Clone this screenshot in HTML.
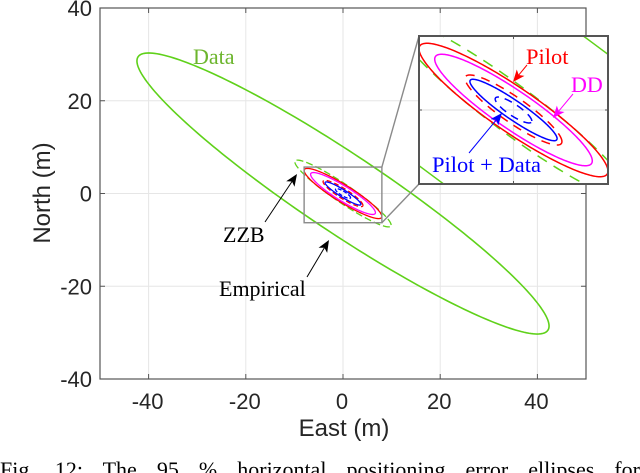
<!DOCTYPE html>
<html>
<head>
<meta charset="utf-8">
<style>
html,body{margin:0;padding:0;background:#fff;width:640px;height:473px;overflow:hidden}
svg{display:block}
.sans{font-family:"Liberation Sans",sans-serif}
.serif{font-family:"Liberation Serif",serif}
</style>
</head>
<body>
<svg id="chart" width="640" height="473" viewBox="0 0 640 473" xmlns="http://www.w3.org/2000/svg">
  <defs>
    <clipPath id="main-clip"><rect x="100" y="8" width="486" height="371"/></clipPath>
    <clipPath id="inset-clip"><rect x="419" y="36" width="189" height="148"/></clipPath>
  </defs>
  <g id="main-grid"></g>
  <g id="main-series" clip-path="url(#main-clip)"></g>
  <g id="main-frame"></g>
  <g id="zoom-box"></g>
  <g id="inset"></g>

  <text class="sans" x="344" y="436" font-size="24" fill="#262626" text-anchor="middle">East (m)</text>
  <text class="sans" transform="translate(50,193) rotate(-90)" font-size="24" fill="#262626" text-anchor="middle">North (m)</text>

  <text class="serif" x="193" y="64" font-size="22" fill="#6cb52d">Data</text>
  <text class="serif" x="223" y="242" font-size="22" fill="#000">ZZB</text>
  <text class="serif" x="219" y="296" font-size="22" fill="#000">Empirical</text>
  <text class="serif" x="526" y="64" font-size="22.5" fill="#ff0000">Pilot</text>
  <text class="serif" x="571" y="92" font-size="22" fill="#ff00ff">DD</text>
  <text class="serif" x="432" y="172" font-size="22.5" fill="#0000ff">Pilot + Data</text>

  <g id="arrows"></g>

  <text id="caption" class="serif" x="0" y="477" font-size="22" fill="#000">Fig. 12: The 95 % horizontal positioning error ellipses for</text>
</svg>
<script>
// Axis tick labels
const xTicks = [-40, -20, 0, 20, 40];
const yTicks = [-40, -20, 0, 20, 40];
const xLimits = [-50, 50];
const yLimits = [-40, 40];
const insetXLimits = [-8, 8];
const insetYLimits = [-6, 6];
const insetXTicks = [0];
const insetYTicks = [0];
const zoomBoxX = [-8, 8];
const zoomBoxY = [-6.3, 5.7];

// Ellipse series: east extent (m), north extent (m), correlation
const seriesNames = ['data', 'data-zzb', 'pilot', 'dd', 'pilot-zzb', 'pilot-data', 'pilot-data-zzb'];
const eastExtent = [42.4, 9.9, 8.0, 6.67, 4.1, 3.69, 1.55];
const northExtent = [30.3, 7.2, 5.41, 4.52, 2.84, 2.49, 1.05];
const correlation = [-0.943, -0.945, -0.916, -0.912, -0.9, -0.93, -0.85];
const seriesColors = ['#5fd11a', '#5fd11a', '#ff0000', '#ff00ff', '#ff0000', '#0000ff', '#0000ff'];
const seriesDashes = ['', '11 8', '', '', '9 7', '', '8 6'];
const mainDashes = ['', '7 3', '', '', '5 3', '', '4 2'];

const NS = 'http://www.w3.org/2000/svg';
const mainX = v => 100 + (v - xLimits[0]) / (xLimits[1] - xLimits[0]) * 486;
const mainY = v => 379 - (v - yLimits[0]) / (yLimits[1] - yLimits[0]) * 371;
const insetX = v => 419 + (v - insetXLimits[0]) / (insetXLimits[1] - insetXLimits[0]) * 189;
const insetY = v => 184 - (v - insetYLimits[0]) / (insetYLimits[1] - insetYLimits[0]) * 148;

function make(tag, attrs, parent) {
  const el = document.createElementNS(NS, tag);
  for (const k in attrs) el.setAttribute(k, attrs[k]);
  parent.appendChild(el);
  return el;
}

function ellipsePath(i, sx, sy) {
  const r = correlation[i];
  const q = Math.sqrt(1 - r * r);
  let d = '';
  for (let k = 0; k <= 240; k++) {
    const t = k / 240 * 2 * Math.PI;
    const e = eastExtent[i] * Math.cos(t);
    const n = northExtent[i] * (r * Math.cos(t) + q * Math.sin(t));
    d += (k ? 'L' : 'M') + sx(e).toFixed(2) + ' ' + sy(n).toFixed(2);
  }
  return d + 'Z';
}

const grid = document.getElementById('main-grid');
const frame = document.getElementById('main-frame');
const series = document.getElementById('main-series');
const zoomBox = document.getElementById('zoom-box');
const inset = document.getElementById('inset');
const arrows = document.getElementById('arrows');

xTicks.forEach(v => {
  const gl = make('line', {x1: mainX(v), x2: mainX(v), y1: 8, y2: 379, stroke: '#e6e6e6', 'stroke-width': 1}, grid);
  
  
  const tb = make('line', {x1: mainX(v), x2: mainX(v), y1: 379, y2: 374, stroke: '#555', 'stroke-width': 1}, frame);
  
  
  const tt = make('line', {x1: mainX(v), x2: mainX(v), y1: 8, y2: 13, stroke: '#555', 'stroke-width': 1}, frame);
  
  
  const lb = make('text', {x: mainX(v) - 1, y: 409, 'font-size': 22, fill: '#262626', 'text-anchor': 'middle', class: 'sans'}, frame);
  
  
  lb.textContent = v;
});

yTicks.forEach(v => {
  const gl = make('line', {x1: 100, x2: 586, y1: mainY(v), y2: mainY(v), stroke: '#e6e6e6', 'stroke-width': 1}, grid);
  
  
  const tl = make('line', {x1: 100, x2: 105, y1: mainY(v), y2: mainY(v), stroke: '#555', 'stroke-width': 1}, frame);
  
  
  const tr = make('line', {x1: 586, x2: 581, y1: mainY(v), y2: mainY(v), stroke: '#555', 'stroke-width': 1}, frame);
  
  
  const lb = make('text', {x: 92, y: mainY(v) + 8, 'font-size': 22, fill: '#262626', 'text-anchor': 'end', class: 'sans'}, frame);
  
  
  lb.textContent = v;
});

const mainBorder = make('rect', {x: 100, y: 8, width: 486, height: 371, fill: 'none', stroke: '#555', 'stroke-width': 1.2}, frame);



seriesNames.forEach((name, i) => {
  const p = make('path', {d: ellipsePath(i, mainX, mainY), fill: 'none', stroke: seriesColors[i], 'stroke-width': i === 0 ? 1.6 : 1.3}, series);
  if (mainDashes[i]) p.setAttribute('stroke-dasharray', mainDashes[i]);
  
  
});

const zx0 = mainX(zoomBoxX[0]), zx1 = mainX(zoomBoxX[1]);
const zy0 = mainY(zoomBoxY[1]), zy1 = mainY(zoomBoxY[0]);
const zr = make('rect', {x: zx0, y: zy0, width: zx1 - zx0, height: zy1 - zy0, fill: 'none', stroke: '#8a8a8a', 'stroke-width': 1.4}, zoomBox);


const c1 = make('line', {x1: zx1, y1: zy0, x2: insetX(insetXLimits[0]), y2: insetY(insetYLimits[1]), stroke: '#8a8a8a', 'stroke-width': 1.4}, zoomBox);


const c2 = make('line', {x1: zx1, y1: zy1, x2: insetX(insetXLimits[0]), y2: insetY(insetYLimits[0]), stroke: '#8a8a8a', 'stroke-width': 1.4}, zoomBox);



const insetBg = make('rect', {x: 419, y: 36, width: 189, height: 148, fill: '#fff'}, inset);


insetXTicks.forEach(v => {
  const gl = make('line', {x1: insetX(v), x2: insetX(v), y1: 36, y2: 184, stroke: '#e2e2e2', 'stroke-width': 1.2}, inset);
  
  
  const t1 = make('line', {x1: insetX(v), x2: insetX(v), y1: 36, y2: 39, stroke: '#555', 'stroke-width': 1}, inset);
  
  
  const t2 = make('line', {x1: insetX(v), x2: insetX(v), y1: 184, y2: 181, stroke: '#555', 'stroke-width': 1}, inset);
  
  
});
insetYTicks.forEach(v => {
  const gl = make('line', {x1: 419, x2: 608, y1: insetY(v), y2: insetY(v), stroke: '#e2e2e2', 'stroke-width': 1.2}, inset);
  
  
  const t1 = make('line', {x1: 419, x2: 422, y1: insetY(v), y2: insetY(v), stroke: '#555', 'stroke-width': 1}, inset);
  
  
  const t2 = make('line', {x1: 608, x2: 605, y1: insetY(v), y2: insetY(v), stroke: '#555', 'stroke-width': 1}, inset);
  
  
});
const insetSeries = make('g', {'clip-path': 'url(#inset-clip)'}, inset);


seriesNames.forEach((name, i) => {
  const p = make('path', {d: ellipsePath(i, insetX, insetY), fill: 'none', stroke: seriesColors[i], 'stroke-width': 1.5}, insetSeries);
  if (seriesDashes[i]) p.setAttribute('stroke-dasharray', seriesDashes[i]);
  
  
});
const insetBorder = make('rect', {x: 419, y: 36, width: 189, height: 148, fill: 'none', stroke: '#555', 'stroke-width': 2}, inset);



function arrow(name, x1, y1, x2, y2, color) {
  const a = Math.atan2(y2 - y1, x2 - x1);
  const L = 12, W = 5, N = 9;
  const bx = x2 - N * Math.cos(a), by = y2 - N * Math.sin(a);
  const px = -Math.sin(a), py = Math.cos(a);
  const ox = x2 - L * Math.cos(a), oy = y2 - L * Math.sin(a);
  const g = make('g', {}, arrows);
  
  
  make('line', {x1: x1, y1: y1, x2: bx, y2: by, stroke: color, 'stroke-width': 1}, g);
  make('polygon', {points: [x2, y2, ox + px * W, oy + py * W, bx, by, ox - px * W, oy - py * W].join(' '), fill: color}, g);
}
arrow('zzb-arrow', 265, 222, 297, 174, '#000');
arrow('empirical-arrow', 307, 277, 329, 240, '#000');
arrow('pilot-arrow', 527, 65, 513, 82, '#ff0000');
arrow('dd-arrow', 573, 94, 553, 118, '#ff00ff');
arrow('pilot-data-arrow', 469, 153, 502, 113, '#0000ff');

// Stretch the caption by word spacing only, so it spans the full width.
const caption = document.getElementById('caption');
const naturalWidth = caption.getComputedTextLength();
const gaps = caption.textContent.split(' ').length - 1;
caption.setAttribute('word-spacing', ((640 - naturalWidth) / gaps).toFixed(2));
</script>
</body>
</html>
